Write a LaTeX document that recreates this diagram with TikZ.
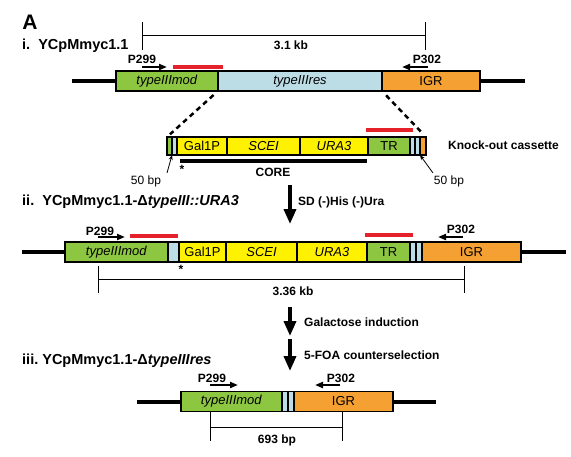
\documentclass[tikz,border=0pt]{standalone}
\usepackage{fontspec}
\setmainfont{Liberation Sans}
\usetikzlibrary{arrows.meta}
\definecolor{gg}{HTML}{8DC641}
\definecolor{lb}{HTML}{BCDCE6}
\definecolor{og}{HTML}{F5A033}
\definecolor{yy}{HTML}{FFF200}
\definecolor{rr}{HTML}{E52229}
\newcommand{\fs}[1]{\fontsize{#1}{#1}\selectfont}
\begin{document}
\begin{tikzpicture}[x=1pt,y=-1pt,
  seg/.style={draw=black, line width=1.2pt, minimum height=20pt, inner sep=0pt, outer sep=0pt, anchor=west, font=\fs{13}},
  cseg/.style={seg, minimum height=18pt},
  backbone/.style={line width=4pt},
  redbar/.style={line width=4pt, rr},
  primer/.style={line width=2.4pt, -{Triangle[length=8pt,width=6pt]}},
  bigarrow/.style={line width=3.5pt, -{Triangle[length=15pt,width=12pt]}},
  meas/.style={line width=0.8pt},
  dashline/.style={line width=2.5pt, dash pattern=on 5pt off 4pt},
  title/.style={anchor=west, inner sep=0pt, font=\fs{14.5}\bfseries},
  lbl/.style={inner sep=0pt, font=\fs{12}\bfseries},
  small/.style={inner sep=0pt, font=\fs{12}},
  thinarrow/.style={line width=0.8pt, -{Stealth[length=5pt,width=4pt]}}
]
\useasboundingbox (0,0) rectangle (571,456);

% ---- header
\node[inner sep=0pt, font=\fs{21}\bfseries] (A) at (30,22) {A};
\node[title] (t1) at (22,46) {i.\ \ YCpMmyc1.1};

% ---- row i
\coordinate (iL) at (72,81);
\coordinate (iR) at (525,81);
\node[seg, fill=gg, minimum width=102pt] (imod) at (116,81) {\textit{typeIIImod}};
\node[seg, fill=lb, minimum width=164pt] (ires) at (imod.east) {\textit{typeIIIres}};
\node[seg, fill=og, minimum width=98pt] (iigr) at (ires.east) {IGR};
\draw[backbone] (iL) -- (imod.west);
\draw[backbone] (iigr.east) -- (iR);

% measure 3.1 kb
\coordinate (m1a) at (142,22);
\coordinate (m1b) at (142,50);
\coordinate (m1c) at (425,22);
\coordinate (m1d) at (425,50);
\draw[meas] (m1a) -- (m1b);
\draw[meas] (m1c) -- (m1d);
\draw[meas] (142,35) -- (425,35);
\node[lbl] (kb31) at (291,45) {3.1 kb};

% primers row i
\node[lbl] (p299a) at (142,59) {P299};
\node[lbl] (p302a) at (427,59) {P302};
\draw[primer] (142,67) -- (167,67);
\draw[primer] (428,67) -- (402,67);
\draw[redbar] (173,67) -- (223,67);

% ---- cassette
\node[cseg, fill=gg, minimum width=5pt] (c1) at (167,146) {};
\node[cseg, fill=lb, minimum width=5pt] (c2) at (c1.east) {};
\node[cseg, fill=yy, minimum width=50pt] (cgal) at (c2.east) {Gal1P};
\node[cseg, fill=yy, minimum width=73pt] (cscei) at (cgal.east) {\textit{SCEI}};
\node[cseg, fill=yy, minimum width=68pt] (cura) at (cscei.east) {\textit{URA3}};
\node[cseg, fill=gg, minimum width=42pt] (ctr) at (cura.east) {TR};
\node[cseg, fill=lb, minimum width=5pt] (c3) at (ctr.east) {};
\node[cseg, fill=lb, minimum width=5pt] (c4) at (c3.east) {};
\node[cseg, fill=og, minimum width=6pt] (c5) at (c4.east) {};

\draw[dashline, shorten <=6pt, shorten >=4pt] (imod.south east) -- (c1.north west);
\draw[dashline, shorten <=6pt, shorten >=4pt] (ires.south east) -- (c5.north east);

\draw[redbar] (366,130) -- (413,130);
\draw[line width=4pt] (180,161) -- (367,161);
\node[lbl] (core) at (273,172) {CORE};
\node[lbl] (st1) at (182,169) {*};
\node[lbl, anchor=west] (ko) at (448,145) {Knock-out cassette};

\node[small] (bp50a) at (146,181) {50 bp};
\node[small] (bp50b) at (449,181) {50 bp};
\coordinate (a50a) at (167,173);
\coordinate (a50b) at (433,173);
\draw[thinarrow] (a50a) -- (c1.south east);
\draw[thinarrow] (a50b) -- (c5.south west);

% ---- step arrow 1
\coordinate (s1a) at (290,185);
\coordinate (s1b) at (290,224);
\draw[bigarrow] (s1a) -- (s1b);
\node[lbl, anchor=west] (sd) at (298,202) {SD (-)His (-)Ura};

\node[title] (t2) at (22,202) {ii.\ \ YCpMmyc1.1-Δ\textit{typeIII::URA3}};

% ---- row ii
\coordinate (iiL) at (22,252);
\coordinate (iiR) at (566,252);
\node[seg, fill=gg, minimum width=103pt] (iimod) at (65,252) {\textit{typeIIImod}};
\node[seg, fill=lb, minimum width=11pt] (iilb) at (iimod.east) {};
\node[seg, fill=yy, minimum width=47pt] (iigal) at (iilb.east) {Gal1P};
\node[seg, fill=yy, minimum width=71pt] (iiscei) at (iigal.east) {\textit{SCEI}};
\node[seg, fill=yy, minimum width=70pt] (iiura) at (iiscei.east) {\textit{URA3}};
\node[seg, fill=gg, minimum width=43pt] (iitr) at (iiura.east) {TR};
\node[seg, fill=lb, minimum width=6pt] (iilb2) at (iitr.east) {};
\node[seg, fill=lb, minimum width=6pt] (iilb3) at (iilb2.east) {};
\node[seg, fill=og, minimum width=99pt] (iiigr) at (iilb3.east) {IGR};
\draw[backbone] (iiL) -- (iimod.west);
\draw[backbone] (iiigr.east) -- (iiR);

\node[lbl] (p299b) at (100,231) {P299};
\node[lbl] (p302b) at (461,229) {P302};
\draw[primer] (98,237) -- (125,237);
\draw[primer] (463,237) -- (438,237);
\draw[redbar] (130,236) -- (178,236);
\draw[redbar] (365,235) -- (413,235);
\node[lbl] (st2) at (181,269) {*};

\draw[meas] (98,266) -- (98,293);
\draw[meas] (464,266) -- (464,293);
\draw[meas] (98,279) -- (464,279);
\node[lbl] (kb336) at (293,291) {3.36 kb};

% ---- step arrows 2,3
\coordinate (s2a) at (290,307);
\coordinate (s2b) at (290,336);
\coordinate (s3a) at (290,339);
\coordinate (s3b) at (290,371);
\draw[bigarrow] (s2a) -- (s2b);
\draw[bigarrow] (s3a) -- (s3b);
\node[lbl, anchor=west] (gal) at (304,322) {Galactose induction};
\node[lbl, anchor=west] (foa) at (304,355) {5-FOA counterselection};

\node[title] (t3) at (22,361) {iii.\ YCpMmyc1.1-Δ\textit{typeIIIres}};

% ---- row iii
\coordinate (iiiL) at (137,401.5);
\coordinate (iiiR) at (436,401.5);
\node[seg, fill=gg, minimum width=101pt] (iiimod) at (181,401.5) {\textit{typeIIImod}};
\node[seg, fill=lb, minimum width=6pt] (iiilb1) at (iiimod.east) {};
\node[seg, fill=lb, minimum width=6pt] (iiilb2) at (iiilb1.east) {};
\node[seg, fill=og, minimum width=99pt] (iiiigr) at (iiilb2.east) {IGR};
\draw[backbone] (iiiL) -- (iiimod.west);
\draw[backbone] (iiiigr.east) -- (iiiR);

\node[lbl] (p299c) at (212,378) {P299};
\node[lbl] (p302c) at (341,378) {P302};
\draw[primer] (210,385) -- (238,385);
\draw[primer] (340,385) -- (315,385);

\draw[meas] (210,411) -- (210,441);
\draw[meas] (342,411) -- (342,441);
\draw[meas] (210,427) -- (342,427);
\node[lbl] (bp693) at (277,440) {693 bp};
\end{tikzpicture}
\end{document}
